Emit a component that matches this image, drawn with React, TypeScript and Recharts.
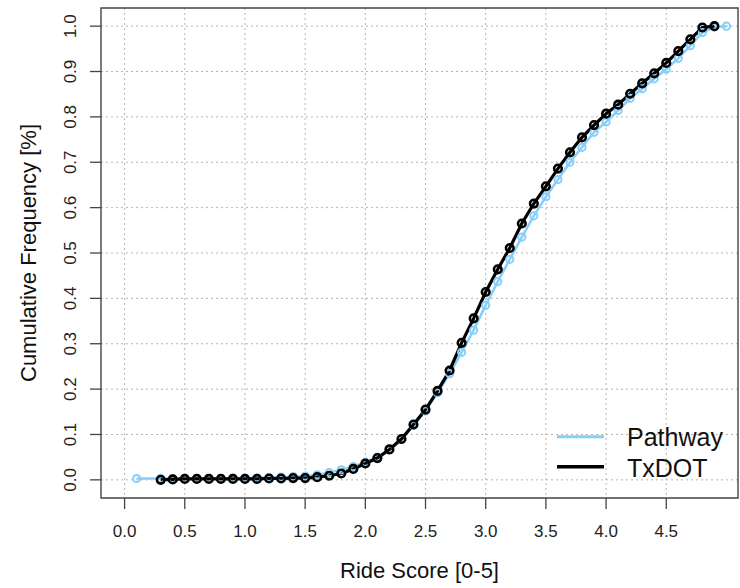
import {
  CartesianGrid,
  Legend,
  Line,
  LineChart,
  ReferenceArea,
  XAxis,
  YAxis,
} from "recharts";

const FONT = '"Liberation Sans", Arial, sans-serif';
const PATHWAY_COLOR = "#87cefa";
const TXDOT_COLOR = "#000000";
const GRID_COLOR = "#b4b4b4";
const AXIS_COLOR = "#444444";

// Pathway: ride score and cumulative share
const pathwayScore = [
  0.1, 0.3, 0.4, 0.5, 0.6, 0.7, 0.8, 0.9, 1.0,
  1.1, 1.2, 1.3, 1.4, 1.5, 1.6, 1.7, 1.8, 1.9, 2.0,
  2.1, 2.2, 2.3, 2.4, 2.5, 2.6, 2.7, 2.8, 2.9, 3.0,
  3.1, 3.2, 3.3, 3.4, 3.5, 3.6, 3.7, 3.8, 3.9, 4.0,
  4.1, 4.2, 4.3, 4.4, 4.5, 4.6, 4.7, 4.8, 4.9, 5.0,
];
const pathwayFreq = [
  0.003, 0.003, 0.003, 0.003, 0.003, 0.003, 0.003, 0.004, 0.004,
  0.004, 0.005, 0.006, 0.007, 0.008, 0.011, 0.016, 0.022, 0.029, 0.039,
  0.05, 0.066, 0.089, 0.12, 0.152, 0.192, 0.234, 0.281, 0.33, 0.385,
  0.437, 0.486, 0.535, 0.582, 0.624, 0.662, 0.7, 0.733, 0.766, 0.789,
  0.814, 0.841, 0.862, 0.884, 0.905, 0.929, 0.957, 0.986, 0.998, 1.0,
];

// TxDOT: ride score and cumulative share
const txdotScore = [
  0.3, 0.4, 0.5, 0.6, 0.7, 0.8, 0.9, 1.0,
  1.1, 1.2, 1.3, 1.4, 1.5, 1.6, 1.7, 1.8, 1.9, 2.0,
  2.1, 2.2, 2.3, 2.4, 2.5, 2.6, 2.7, 2.8, 2.9, 3.0,
  3.1, 3.2, 3.3, 3.4, 3.5, 3.6, 3.7, 3.8, 3.9, 4.0,
  4.1, 4.2, 4.3, 4.4, 4.5, 4.6, 4.7, 4.8, 4.9,
];
const txdotFreq = [
  0.0, 0.001, 0.002, 0.002, 0.002, 0.002, 0.002, 0.002,
  0.002, 0.003, 0.003, 0.004, 0.004, 0.006, 0.009, 0.014, 0.024, 0.036,
  0.048, 0.067, 0.09, 0.122, 0.155, 0.196, 0.241, 0.302, 0.356, 0.414,
  0.464, 0.511, 0.565, 0.609, 0.647, 0.686, 0.722, 0.755, 0.782, 0.807,
  0.827, 0.851, 0.874, 0.896, 0.919, 0.945, 0.971, 0.997, 1.0,
];

const xTicks = [0, 0.5, 1, 1.5, 2, 2.5, 3, 3.5, 4, 4.5];
const yTicks = [0, 0.1, 0.2, 0.3, 0.4, 0.5, 0.6, 0.7, 0.8, 0.9, 1.0];

const X_DOMAIN: [number, number] = [-0.196, 5.096];
const Y_DOMAIN: [number, number] = [-0.04, 1.04];

const pathwayData = pathwayScore.map((x, i) => ({ x, y: pathwayFreq[i] }));
const txdotData = txdotScore.map((x, i) => ({ x, y: txdotFreq[i] }));

function XTick({ x, y, payload }: any) {
  return (
    <text x={x} y={y + 26} textAnchor="middle" fontSize={17} fill="#222" fontFamily={FONT}>
      {payload.value.toFixed(1)}
    </text>
  );
}

function YTick({ x, y, payload }: any) {
  const tx = x - 12;
  return (
    <text
      x={tx}
      y={y}
      transform={`rotate(-90 ${tx} ${y})`}
      textAnchor="middle"
      fontSize={17}
      fill="#222"
      fontFamily={FONT}
    >
      {payload.value.toFixed(1)}
    </text>
  );
}

function LegendBox() {
  return (
    <svg width={184} height={66} style={{ display: "block" }}>
      <line x1={1} x2={48} y1={16.7} y2={16.7} stroke={PATHWAY_COLOR} strokeWidth={3} />
      <line x1={1} x2={48} y1={46.7} y2={46.7} stroke={TXDOT_COLOR} strokeWidth={3.5} />
      <text x={71} y={26} fontSize={25} fill="#111" fontFamily={FONT}>
        Pathway
      </text>
      <text x={71} y={57} fontSize={25} fill="#111" fontFamily={FONT}>
        TxDOT
      </text>
    </svg>
  );
}

export default function App() {
  return (
    <div style={{ position: "absolute", left: 0, top: 0, background: "#fff" }}>
      <LineChart
        width={740}
        height={588}
        margin={{ top: 8, right: 2, bottom: 0, left: 0 }}
      >
        <CartesianGrid
          stroke={GRID_COLOR}
          strokeDasharray="2 3"
          horizontalValues={yTicks}
          verticalValues={xTicks}
        />
        <XAxis
          type="number"
          dataKey="x"
          domain={X_DOMAIN}
          ticks={xTicks}
          allowDataOverflow
          height={90}
          axisLine={false}
          tickLine={{ stroke: AXIS_COLOR, strokeWidth: 1.3 }}
          tickSize={11}
          tick={<XTick />}
          label={{
            content: ({ viewBox }: any) => (
              <text
                x={viewBox.x + viewBox.width / 2}
                y={578}
                textAnchor="middle"
                fontSize={22}
                fill="#111"
                fontFamily={FONT}
              >
                Ride Score [0-5]
              </text>
            ),
          }}
        />
        <YAxis
          type="number"
          dataKey="y"
          domain={Y_DOMAIN}
          ticks={yTicks}
          allowDataOverflow
          width={101}
          axisLine={false}
          tickLine={{ stroke: AXIS_COLOR, strokeWidth: 1.3 }}
          tickSize={11}
          tick={<YTick />}
          label={{
            content: ({ viewBox }: any) => {
              const cy = viewBox.y + viewBox.height / 2;
              return (
                <text
                  x={36}
                  y={cy}
                  transform={`rotate(-90 36 ${cy})`}
                  textAnchor="middle"
                  fontSize={22}
                  fill="#111"
                  fontFamily={FONT}
                >
                  Cumulative Frequency [%]
                </text>
              );
            },
          }}
        />
        <ReferenceArea
          x1={X_DOMAIN[0]}
          x2={X_DOMAIN[1]}
          y1={Y_DOMAIN[0]}
          y2={Y_DOMAIN[1]}
          fill="none"
          stroke={AXIS_COLOR}
          strokeWidth={1.4}
        />
        <Line
          data={pathwayData}
          dataKey="y"
          name="Pathway"
          type="linear"
          stroke={PATHWAY_COLOR}
          strokeWidth={2.5}
          dot={{ r: 3.6, stroke: PATHWAY_COLOR, strokeWidth: 2, fill: "none" }}
          activeDot={false}
          isAnimationActive={false}
        />
        <Line
          data={txdotData}
          dataKey="y"
          name="TxDOT"
          type="linear"
          stroke={TXDOT_COLOR}
          strokeWidth={3.2}
          dot={{ r: 3.8, stroke: TXDOT_COLOR, strokeWidth: 2.6, fill: "none" }}
          activeDot={false}
          isAnimationActive={false}
        />
        <Legend
          layout="horizontal"
          verticalAlign="middle"
          align="center"
          content={() => <LegendBox />}
          wrapperStyle={{ position: "absolute", left: 556, top: 420, width: 184, height: 66 }}
        />
      </LineChart>
    </div>
  );
}
